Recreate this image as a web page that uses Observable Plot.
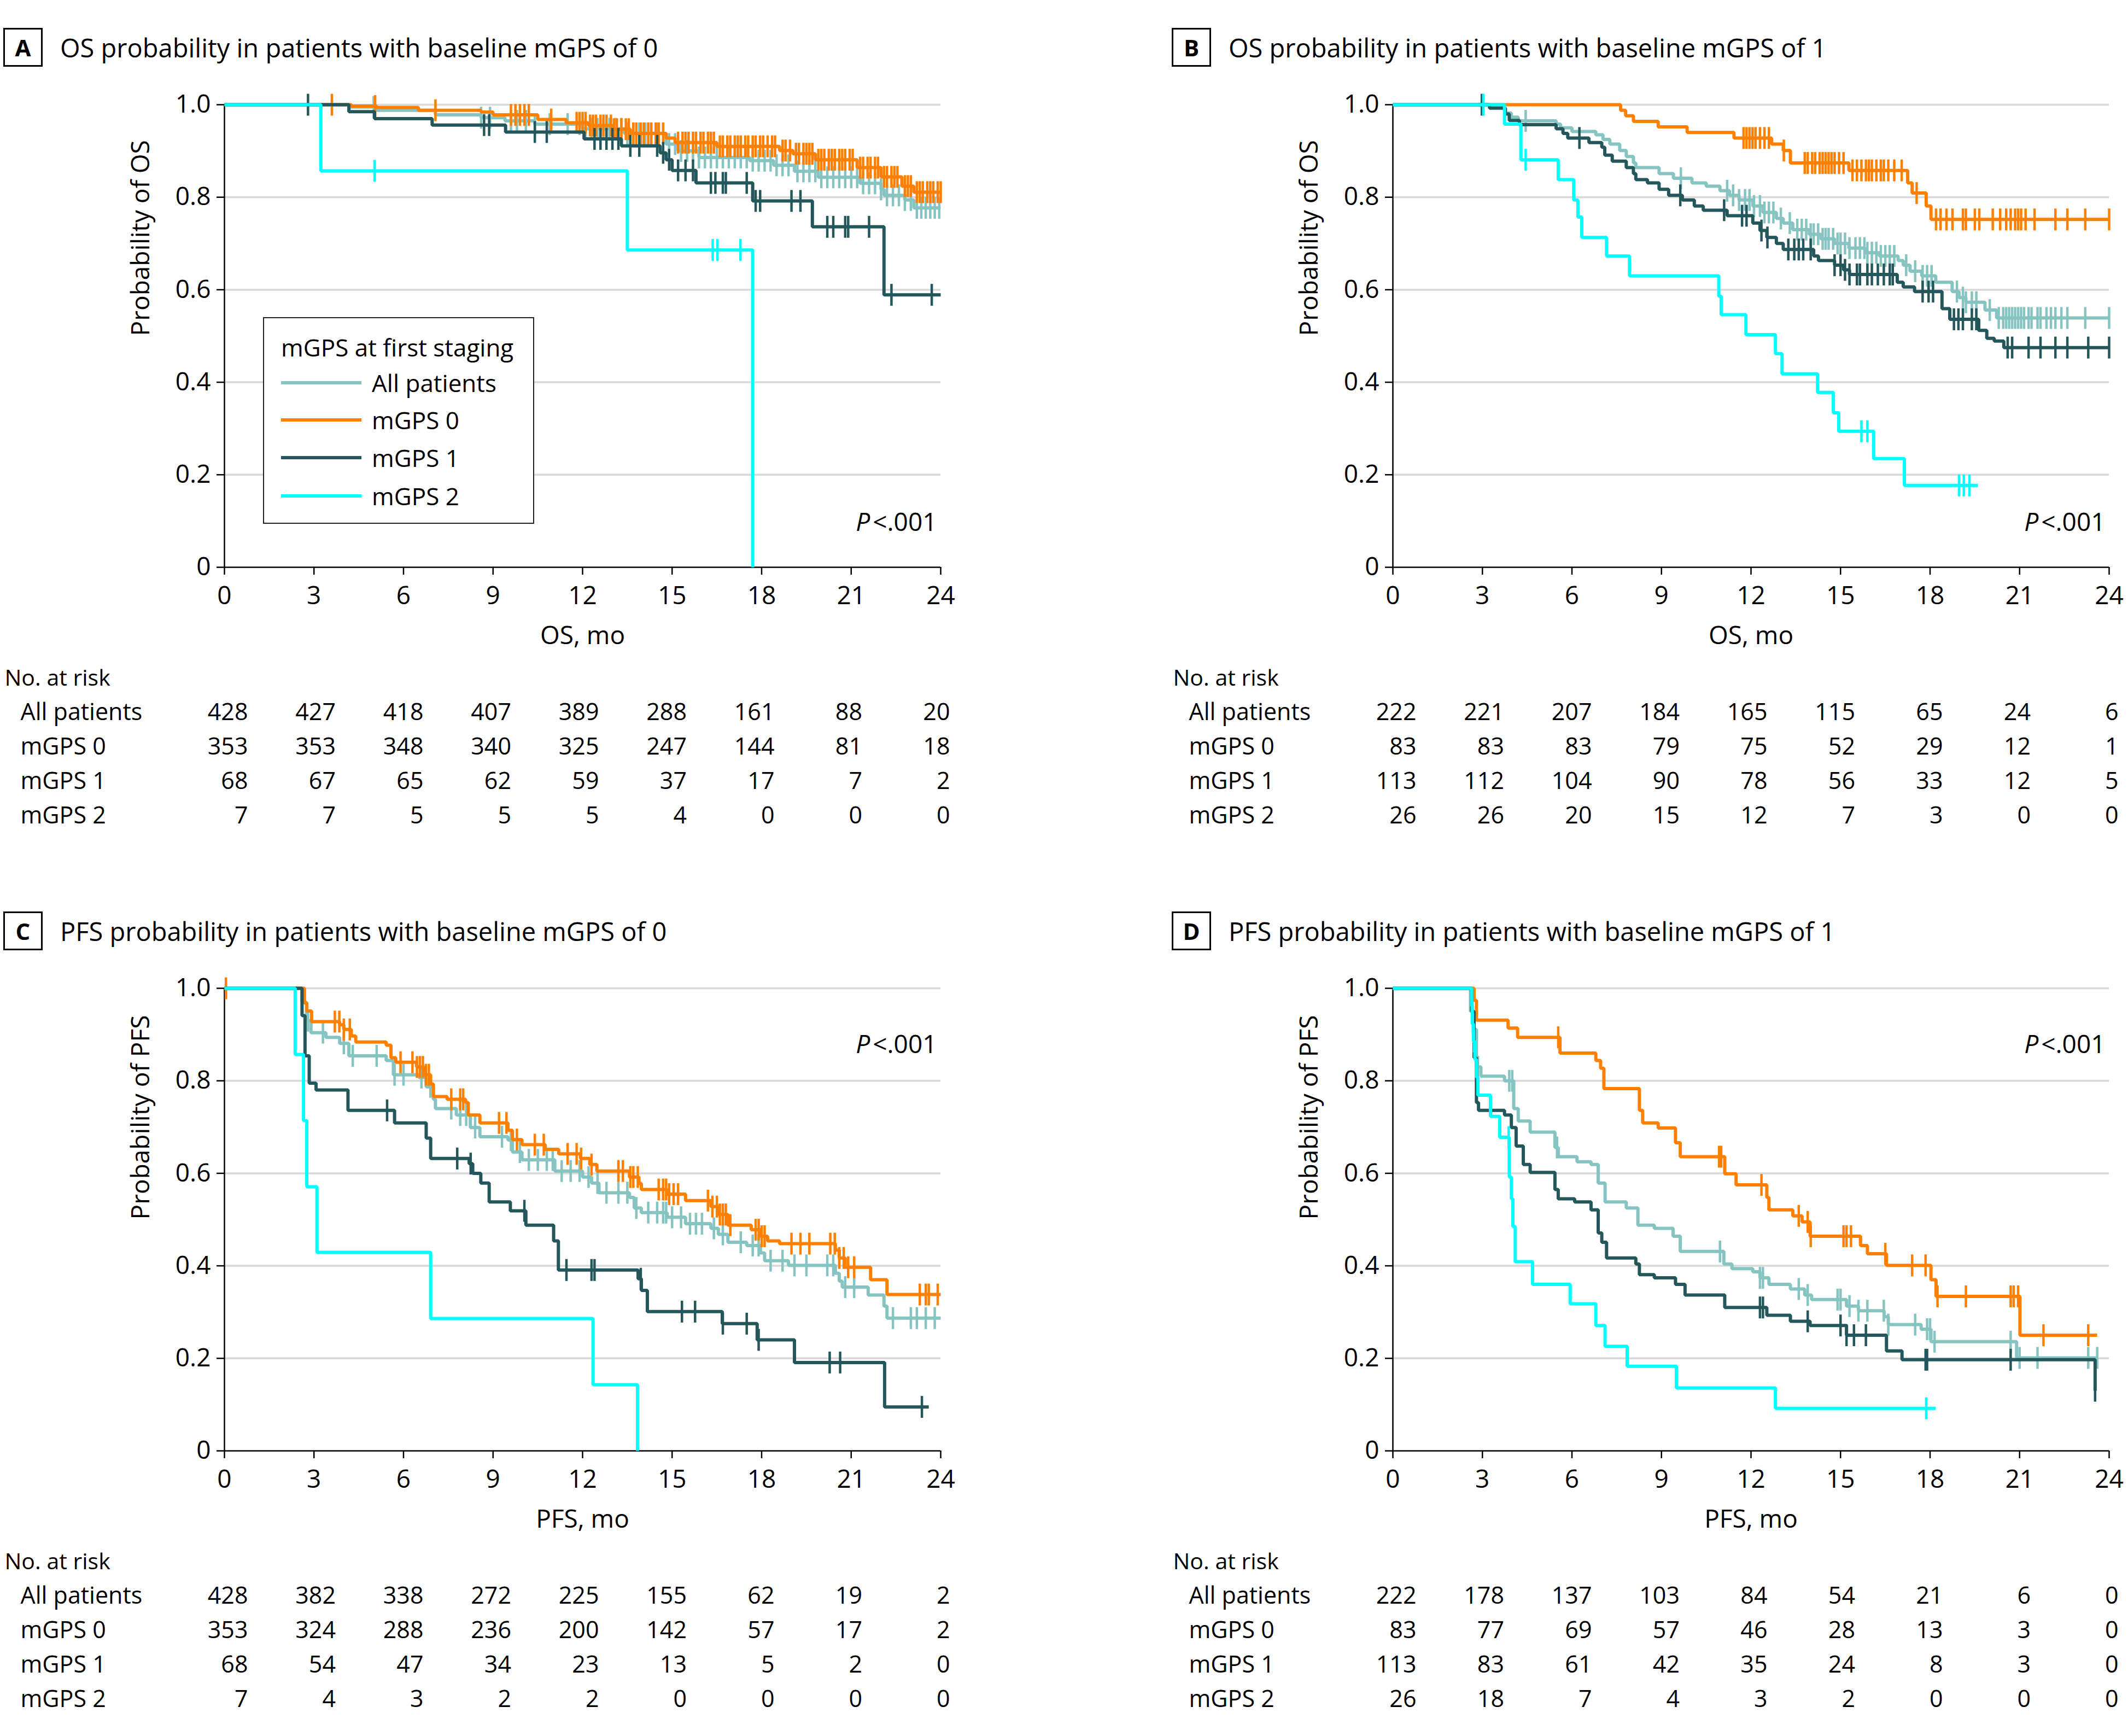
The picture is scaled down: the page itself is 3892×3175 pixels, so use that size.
<!DOCTYPE html>
<html><head><meta charset="utf-8">
<script src="https://cdn.jsdelivr.net/npm/d3@7"></script>
<script src="https://cdn.jsdelivr.net/npm/@observablehq/plot@0.6"></script>
<style>
body{margin:0;background:#fff;}
#page{position:relative;width:3892px;height:3175px;font-family:"Open Sans",sans-serif;color:#000;overflow:hidden;background:#fff;}
.panel{position:absolute;width:1900px;height:1580px;}
.panel svg{position:absolute;left:0;overflow:visible;}
.tbox{position:absolute;left:6px;top:51px;width:66px;height:65px;border:3px solid #000;font-weight:700;font-size:42px;line-height:65px;text-align:center;}
.title{position:absolute;left:110px;top:64px;font-size:47px;line-height:47px;white-space:nowrap;}
.legend{position:absolute;left:481px;top:580px;width:492px;height:374px;border:2.5px solid #222;background:#fff;}
.legend .lt{position:absolute;left:31px;top:23px;font-size:44px;line-height:60px;white-space:nowrap;}
.legend .row{position:absolute;left:31px;height:60px;white-space:nowrap;}
.legend .sw{position:absolute;left:0;top:27px;width:147px;height:6px;}
.legend .lab{position:absolute;left:166px;top:0;font-size:44px;line-height:60px;}
</style></head>
<body><div id="page"></div>
<script>
// ---------- shared ----------
const xTicks = [0, 3, 6, 9, 12, 15, 18, 21, 24];
const yTicks = [0, 0.2, 0.4, 0.6, 0.8, 1.0];
const gridTicks = [0.2, 0.4, 0.6, 0.8, 1.0];
const groups = ["All patients", "mGPS 0", "mGPS 1", "mGPS 2"];
const colors = ["#86c4c2", "#ff8000", "#24575c", "#00ffff"];
const pLabel = "P<.001";

// ---------- Panel A: OS, baseline mGPS 0 ----------
const A_all_t = [4.2,5.1,7.07,8.6,9.4,10.4,12.0,13.4,14.8,15.2,15.9,17.6,18.4,19.1,19.9,21.3,22.0,22.1,22.8,23.1];
const A_all_s = [.995,.988,.978,.972,.965,.958,.948,.938,.915,.900,.886,.879,.869,.856,.843,.830,.817,.804,.794,.777];
const A_all_c = [5.0,8.6,8.9,9.6,9.8,10.1,10.4,10.9,11.5,11.9,12.1,12.3,12.5,12.7,12.9,13.1,13.3,13.5,13.7,13.9,14.1,14.3,14.5,14.9,15.1,15.3,15.5,15.7,15.9,16.1,16.3,16.5,16.7,16.9,17.1,17.3,17.5,17.7,17.9,18.1,18.3,18.5,18.7,18.9,19.2,19.4,19.6,19.8,20.0,20.2,20.4,20.6,20.8,21.0,21.2,21.4,21.6,21.8,22.0,22.2,22.4,22.6,22.8,23.0,23.2,23.35,23.5,23.65,23.8,23.95];
const A_0_t = [4.25,5.1,6.5,8.6,9.0,10.5,11.45,12.2,13.0,13.6,14.8,15.1,16.5,18.6,19.05,19.8,21.2,22.0,22.7,23.1];
const A_0_s = [.997,.994,.988,.984,.978,.968,.961,.955,.947,.938,.928,.918,.910,.901,.894,.881,.864,.844,.824,.811];
const A_0_c = [3.6,5.05,7.07,9.6,9.75,9.9,10.05,10.2,10.95,11.8,11.9,12.0,12.1,12.25,12.35,12.45,12.6,12.7,12.8,12.95,13.05,13.15,13.3,13.45,13.55,13.7,13.8,13.95,14.05,14.2,14.3,14.45,14.55,14.7,15.2,15.35,15.45,15.55,15.7,15.8,15.95,16.05,16.2,16.3,16.4,16.6,16.7,16.85,16.95,17.1,17.2,17.3,17.45,17.55,17.7,17.8,17.95,18.05,18.2,18.35,18.45,18.7,18.8,18.95,19.15,19.25,19.4,19.5,19.6,19.7,19.9,20.0,20.1,20.25,20.35,20.45,20.6,20.7,20.8,20.95,21.05,21.3,21.4,21.55,21.65,21.8,21.9,22.1,22.2,22.35,22.45,22.55,22.8,22.9,23.0,23.2,23.3,23.4,23.55,23.65,23.75,23.9,24.0];
const A_1_t = [4.17,5.03,6.96,9.42,12.05,13.3,14.6,14.8,15.0,15.8,17.7,19.7,22.1];
const A_1_s = [.985,.970,.956,.941,.926,.911,.896,.881,.858,.831,.792,.736,.589];
const A_1_c = [2.8,8.7,8.87,10.4,10.8,12.4,12.6,12.8,13.0,13.2,13.6,13.9,14.5,14.7,14.9,15.2,15.45,15.7,16.3,16.45,16.7,16.8,17.5,17.8,17.95,19.0,19.3,20.2,20.4,20.8,20.9,21.6,22.35,23.7];
const A_2_t = [3.23,13.5,17.7];
const A_2_s = [.857,.686,0];
const A_2_c = [5.03,16.36,16.52,17.29];
const A_end = [24, 24, 24, 17.7];
const A_risk_all = [428,427,418,407,389,288,161,88,20];
const A_risk_0 = [353,353,348,340,325,247,144,81,18];
const A_risk_1 = [68,67,65,62,59,37,17,7,2];
const A_risk_2 = [7,7,5,5,5,4,0,0,0];

// ---------- Panel B: OS, baseline mGPS 1 ----------
const B_all_t = [3.24,3.77,3.97,4.2,5.47,5.62,6.0,6.8,7.04,7.27,7.6,7.82,8.06,8.14,8.92,9.4,10.02,10.5,10.96,11.28,11.6,12.06,12.4,12.85,13.08,13.4,13.95,14.34,14.8,15.28,15.83,16.3,16.93,17.1,17.33,17.72,18.19,18.74,18.97,19.2,19.84,20.23];
const B_all_s = [.992,.982,.973,.965,.958,.950,.942,.935,.925,.915,.901,.888,.874,.864,.851,.841,.831,.824,.814,.804,.794,.781,.767,.754,.744,.730,.720,.710,.700,.690,.680,.673,.663,.653,.640,.630,.616,.596,.583,.573,.556,.539];
const B_all_c = [4.45,9.65,11.2,11.4,11.6,11.8,11.95,12.1,12.3,12.45,12.6,12.75,13.0,13.3,13.55,13.7,13.85,14.0,14.1,14.25,14.4,14.5,14.6,14.75,14.9,15.0,15.15,15.3,15.5,15.65,15.8,15.9,16.05,16.2,16.35,16.5,16.65,16.8,17.2,17.5,17.75,17.9,18.05,18.9,19.1,19.2,19.4,19.55,20.0,20.3,20.45,20.55,20.65,20.75,20.85,20.95,21.05,21.15,21.3,21.4,21.6,21.7,21.9,22.05,22.2,22.4,22.6,23.2,24.0];
const B_0_t = [7.63,7.8,8.06,8.89,9.86,11.43,12.69,13.08,13.32,15.28,17.25,17.4,17.87,18.03];
const B_0_s = [.988,.976,.964,.952,.940,.928,.915,.901,.874,.858,.831,.809,.781,.752];
const B_0_c = [11.75,11.85,11.95,12.05,12.15,12.3,12.45,12.6,13.1,13.8,13.9,14.05,14.15,14.3,14.4,14.5,14.6,14.7,14.8,14.95,15.1,15.4,15.55,15.7,15.85,15.95,16.05,16.2,16.35,16.45,16.6,16.8,17.05,17.55,18.2,18.35,18.55,18.75,19.1,19.2,19.5,19.65,20.1,20.35,20.55,20.7,20.85,20.95,21.05,21.2,21.5,22.2,22.6,23.2,24.0];
const B_1_t = [3.24,3.77,3.9,4.24,5.47,5.7,5.86,6.57,7.0,7.1,7.35,7.82,8.06,8.14,8.53,8.92,9.24,9.7,10.1,10.4,11.2,12.06,12.3,12.53,12.85,13.08,14.1,14.26,14.8,15.1,15.3,16.9,17.1,17.48,18.4,18.66,19.63,19.9,20.15,20.47];
const B_1_s = [.993,.980,.966,.957,.948,.938,.928,.918,.908,.891,.878,.864,.851,.838,.831,.817,.804,.794,.781,.772,.760,.744,.728,.713,.700,.687,.673,.663,.653,.643,.633,.616,.606,.596,.559,.536,.512,.495,.489,.475];
const B_1_c = [2.98,6.25,9.63,11.1,11.7,11.85,12.35,12.55,13.25,13.45,13.6,13.75,14.0,14.8,15.0,15.15,15.3,15.55,15.65,15.9,16.05,16.25,16.45,16.65,16.75,17.75,17.95,18.1,18.8,18.95,19.1,19.4,19.55,20.6,20.75,21.3,21.7,22.2,22.6,23.3,24.0];
const B_2_t = [3.74,4.29,5.54,6.06,6.2,6.33,7.16,7.93,10.92,11.0,11.83,12.82,13.04,14.23,14.76,14.94,16.11,17.14];
const B_2_s = [.958,.881,.838,.794,.757,.713,.673,.630,.586,.546,.503,.462,.418,.378,.334,.294,.235,.177];
const B_2_c = [3.03,4.45,15.7,15.9,18.97,19.13,19.32];
const B_end = [24, 24, 24, 19.6];
const B_risk_all = [222,221,207,184,165,115,65,24,6];
const B_risk_0 = [83,83,83,79,75,52,29,12,1];
const B_risk_1 = [113,112,104,90,78,56,33,12,5];
const B_risk_2 = [26,26,20,15,12,7,3,0,0];

// ---------- Panel C: PFS, baseline mGPS 0 ----------
const C_all_t = [2.6,2.75,2.9,3.4,3.86,4.17,5.42,5.66,6.52,6.76,7.0,7.07,7.77,8.24,8.56,9.5,9.65,9.97,11.07,12.0,12.3,12.55,13.57,13.73,13.97,14.83,15.45,16.3,16.55,16.87,17.5,17.96,18.1,18.9,20.47,20.6,20.7,21.57,22.1,22.2];
const C_all_s = [.970,.930,.904,.894,.881,.854,.844,.813,.807,.787,.760,.740,.726,.699,.679,.672,.646,.629,.605,.592,.579,.558,.548,.525,.515,.505,.491,.481,.468,.451,.444,.428,.411,.401,.384,.367,.354,.337,.313,.287];
const C_all_c = [2.8,3.3,4.0,4.3,5.1,5.7,6.0,6.6,6.9,7.6,7.9,8.1,8.4,9.3,9.6,9.9,10.2,10.5,10.8,11.0,11.3,11.6,11.9,12.2,12.5,12.8,13.2,13.5,13.8,14.2,14.5,14.7,14.8,15.0,15.3,15.6,15.8,16.0,16.4,16.7,17.3,17.7,17.9,18.3,18.7,19.1,19.5,20.2,20.4,20.8,21.1,22.4,23.0,23.2,23.5,23.8];
const C_0_t = [2.68,2.76,2.92,3.86,4.0,4.25,4.4,5.42,5.58,5.74,6.44,6.68,6.91,7.0,7.46,8.08,8.17,8.56,9.5,9.65,9.97,10.75,11.2,11.93,12.24,12.48,13.57,13.89,13.97,14.83,15.45,16.3,16.55,16.87,17.65,17.96,18.2,18.6,20.47,20.6,20.8,21.65,22.2];
const C_0_s = [.968,.951,.928,.921,.911,.897,.884,.877,.850,.840,.830,.813,.793,.766,.760,.753,.726,.709,.693,.673,.662,.652,.642,.632,.619,.605,.592,.578,.565,.555,.541,.528,.511,.488,.478,.464,.454,.448,.434,.417,.397,.370,.338];
const C_0_c = [0.05,3.7,3.85,4.0,4.2,5.9,6.3,6.45,6.55,6.65,6.75,6.85,7.6,7.9,8.0,9.2,9.45,9.8,10.4,10.7,11.5,11.8,11.95,12.3,13.2,13.35,13.6,13.7,13.85,14.55,14.7,14.8,14.9,15.05,15.2,16.2,16.35,16.5,16.6,16.7,16.8,16.95,17.8,17.9,18.0,18.1,19.0,19.3,19.6,20.3,20.45,20.6,20.75,20.9,21.1,23.3,23.5,23.6,23.9];
const C_1_t = [2.6,2.7,2.84,3.07,4.14,5.7,6.76,6.91,8.2,8.32,8.59,8.87,9.58,10.1,11.03,11.19,13.86,13.97,14.17,16.68,17.85,19.1,22.12];
const C_1_s = [.941,.854,.795,.780,.736,.709,.676,.632,.621,.600,.579,.538,.519,.488,.454,.391,.372,.347,.301,.275,.240,.191,.095];
const C_1_c = [5.45,7.8,8.25,10.05,11.46,12.3,12.4,13.95,15.33,15.77,16.7,17.5,17.9,20.28,20.63,23.37];
const C_2_t = [2.37,2.65,2.76,3.1,6.91,12.35,13.84];
const C_2_s = [.857,.714,.571,.429,.286,.143,0];
const C_2_c = [];
const C_end = [24, 24, 23.6, 13.84];
const C_risk_all = [428,382,338,272,225,155,62,19,2];
const C_risk_0 = [353,324,288,236,200,142,57,17,2];
const C_risk_1 = [68,54,47,34,23,13,5,2,0];
const C_risk_2 = [7,4,3,2,2,0,0,0,0];

// ---------- Panel D: PFS, baseline mGPS 1 ----------
const D_all_t = [2.6,2.72,2.8,2.95,3.74,4.05,4.2,4.6,5.43,5.54,6.17,6.64,6.88,7.11,7.82,8.21,8.76,9.39,9.63,11.09,11.36,12.06,12.3,12.6,13.32,13.8,14.03,15.2,15.6,16.46,16.6,17.7,18.03,20.9];
const D_all_s = [.950,.911,.830,.810,.800,.740,.713,.689,.656,.636,.625,.619,.579,.538,.525,.488,.481,.464,.431,.404,.394,.387,.374,.360,.350,.337,.327,.313,.303,.290,.273,.263,.236,.201];
const D_all_c = [2.72,2.85,3.9,4.0,5.5,10.96,12.3,12.4,13.6,13.9,14.9,15.0,15.3,15.6,15.9,16.45,16.6,17.5,17.9,18.0,18.15,20.7,21.0,21.6,23.3,23.6];
const D_0_t = [2.72,2.8,3.86,4.18,5.6,6.8,6.96,7.07,8.26,8.37,8.89,9.47,9.63,11.12,11.5,12.53,12.6,13.4,13.71,13.98,15.67,15.9,16.54,18.03,18.2,21.01];
const D_0_s = [.974,.931,.914,.894,.860,.844,.827,.783,.736,.709,.698,.666,.636,.599,.575,.548,.521,.508,.495,.464,.444,.426,.401,.370,.334,.250];
const D_0_c = [5.54,10.93,11.0,12.35,13.6,13.9,14.0,15.1,15.2,15.35,16.5,17.4,17.85,18.25,19.2,20.7,20.8,20.95,21.8,23.3];
const D_1_t = [2.64,2.72,2.8,2.87,3.74,3.97,4.13,4.37,4.6,5.43,5.54,6.09,6.64,6.88,7.0,7.16,8.14,8.26,8.76,9.47,9.79,11.12,12.53,13.32,13.98,15.2,16.54,17.06,23.53];
const D_1_s = [.950,.850,.753,.736,.726,.699,.659,.619,.602,.565,.545,.538,.521,.471,.451,.417,.404,.381,.374,.360,.337,.310,.293,.280,.271,.250,.216,.197,.130];
const D_1_c = [12.3,12.4,13.9,15.0,15.2,15.45,15.85,17.85,17.9,20.7,23.53];
const D_2_t = [2.64,2.66,2.7,2.75,2.8,2.85,3.27,3.58,3.9,3.97,4.02,4.1,4.68,5.94,6.8,7.11,7.85,9.5,12.82];
const D_2_s = [.962,.923,.885,.846,.808,.769,.723,.678,.592,.545,.485,.409,.360,.318,.271,.226,.183,.136,.092];
const D_2_c = [2.68,2.72,3.88,17.87];
const D_end = [23.6, 23.6, 23.53, 18.19];
const D_risk_all = [222,178,137,103,84,54,21,6,0];
const D_risk_0 = [83,77,69,57,46,28,13,3,0];
const D_risk_1 = [113,83,61,42,35,24,8,3,0];
const D_risk_2 = [26,18,7,4,3,2,0,0,0];

// ---------- panel configuration ----------
const panels = [
  {id:"A", ox:0, oy:0, title:"OS probability in patients with baseline mGPS of 0", ylab:"Probability of OS", xlab:"OS, mo", pTop:false, legend:true,
   t:[A_all_t,A_0_t,A_1_t,A_2_t], s:[A_all_s,A_0_s,A_1_s,A_2_s], c:[A_all_c,A_0_c,A_1_c,A_2_c], end:A_end, risk:[A_risk_all,A_risk_0,A_risk_1,A_risk_2]},
  {id:"B", ox:2137, oy:0, title:"OS probability in patients with baseline mGPS of 1", ylab:"Probability of OS", xlab:"OS, mo", pTop:false, legend:false,
   t:[B_all_t,B_0_t,B_1_t,B_2_t], s:[B_all_s,B_0_s,B_1_s,B_2_s], c:[B_all_c,B_0_c,B_1_c,B_2_c], end:B_end, risk:[B_risk_all,B_risk_0,B_risk_1,B_risk_2]},
  {id:"C", ox:0, oy:1616, title:"PFS probability in patients with baseline mGPS of 0", ylab:"Probability of PFS", xlab:"PFS, mo", pTop:true, legend:false,
   t:[C_all_t,C_0_t,C_1_t,C_2_t], s:[C_all_s,C_0_s,C_1_s,C_2_s], c:[C_all_c,C_0_c,C_1_c,C_2_c], end:C_end, risk:[C_risk_all,C_risk_0,C_risk_1,C_risk_2]},
  {id:"D", ox:2137, oy:1616, title:"PFS probability in patients with baseline mGPS of 1", ylab:"Probability of PFS", xlab:"PFS, mo", pTop:true, legend:false,
   t:[D_all_t,D_0_t,D_1_t,D_2_t], s:[D_all_s,D_0_s,D_1_s,D_2_s], c:[D_all_c,D_0_c,D_1_c,D_2_c], end:D_end, risk:[D_risk_all,D_risk_0,D_risk_1,D_risk_2]}
];

// censor tick symbol (vertical bar)
const vbar = {draw(ctx, size) { const r = Math.sqrt(size / Math.PI); ctx.moveTo(0, -r); ctx.lineTo(0, r); }};

function buildSeries(t, s, c, end) {
  const pts = [{t: 0, s: 1}];
  t.forEach((ti, i) => pts.push({t: ti, s: s[i]}));
  pts.push({t: end, s: s.length ? s[s.length - 1] : 1});
  const S = x => { let v = 1; for (let i = 0; i < t.length; i++) if (t[i] <= x) v = s[i]; return v; };
  const cens = c.map(ci => ({t: ci, s: S(ci)}));
  return {pts, cens};
}

const page = document.getElementById("page");

for (const p of panels) {
  const div = document.createElement("div");
  div.className = "panel";
  div.style.left = p.ox + "px";
  div.style.top = p.oy + "px";
  page.appendChild(div);

  const box = document.createElement("div"); box.className = "tbox"; box.textContent = p.id; div.appendChild(box);
  const ti = document.createElement("div"); ti.className = "title"; ti.textContent = p.title; div.appendChild(ti);

  const curveMarks = [];
  groups.forEach((g, i) => {
    const {pts, cens} = buildSeries(p.t[i], p.s[i], p.c[i], p.end[i]);
    curveMarks.push(Plot.line(pts, {x: "t", y: "s", curve: "step-after", stroke: colors[i], strokeWidth: 6, strokeLinejoin: "miter", strokeLinecap: "butt"}));
    curveMarks.push(Plot.dot(cens, {x: "t", y: "s", symbol: vbar, r: 20, stroke: colors[i], strokeWidth: 4.5, fill: "none"}));
  });

  const km = Plot.plot({
    width: 1780, height: 1080,
    marginLeft: 410, marginRight: 60, marginTop: 51, marginBottom: 183,
    x: {domain: [0, 24]},
    y: {domain: [0, 1]},
    style: {fontFamily: "'Open Sans', sans-serif", fontSize: "46px", color: "#000", background: "transparent", overflow: "visible"},
    marks: [
      Plot.gridY({ticks: gridTicks, stroke: "#d9d9d9", strokeOpacity: 1, strokeWidth: 3.5}),
      Plot.axisX({ticks: xTicks, tickSize: 14, tickPadding: 21, fontSize: 46, strokeWidth: 2.5, label: null, tickFormat: d => String(d)}),
      Plot.axisY({ticks: yTicks, tickSize: 14, tickPadding: 11, fontSize: 46, strokeWidth: 2.5, label: null, tickFormat: d => d === 0 ? "0" : d.toFixed(1)}),
      Plot.ruleX([0], {stroke: "#000", strokeWidth: 2.5}),
      Plot.ruleY([0], {stroke: "#000", strokeWidth: 2.5}),
      ...curveMarks,
      Plot.text([p.ylab], {frameAnchor: "left", rotate: -90, dx: -152, fontSize: 46}),
      Plot.text([p.xlab], {frameAnchor: "bottom", dy: 140, fontSize: 46}),
      Plot.text([pLabel], p.pTop
        ? {frameAnchor: "top-right", textAnchor: "end", dx: -7, dy: 86, fontSize: 46}
        : {frameAnchor: "bottom-right", textAnchor: "end", dx: -7, dy: -67, fontSize: 46})
    ]
  });
  km.style.top = "140px";
  d3.select(km).selectAll("text").each(function() {
    if (this.textContent === pLabel) {
      const sel = d3.select(this);
      sel.text(null);
      sel.append("tspan").attr("font-style", "italic").text("P");
      sel.append("tspan").attr("dx", 5).text("<.001");
    }
  });
  div.appendChild(km);

  // number at risk table
  const tableData = groups.flatMap((g, i) => xTicks.map((t, j) => ({t, row: g, n: p.risk[i][j]})));
  const tbl = Plot.plot({
    width: 1780, height: 330,
    marginLeft: 410, marginRight: 60, marginTop: 0, marginBottom: 0,
    x: {domain: [0, 24], range: [453, 1737], axis: null},
    y: {type: "point", domain: ["No. at risk", ...groups], range: [39, 292], padding: 0},
    style: {fontFamily: "'Open Sans', sans-serif", fontSize: "43px", color: "#000", background: "transparent", overflow: "visible"},
    marks: [
      Plot.axisY({ticks: groups, tickSize: 0, tickPadding: 373, textAnchor: "start", fontSize: 43, label: null}),
      Plot.axisY({ticks: ["No. at risk"], tickSize: 0, tickPadding: 402, textAnchor: "start", fontSize: 41, label: null}),
      Plot.text(tableData, {x: "t", y: "row", text: d => String(d.n), textAnchor: "end", fontSize: 43})
    ]
  });
  tbl.style.top = "1200px";
  div.appendChild(tbl);

  if (p.legend) {
    const lg = document.createElement("div");
    lg.className = "legend";
    const lt = document.createElement("div"); lt.className = "lt"; lt.textContent = "mGPS at first staging"; lg.appendChild(lt);
    const rowTops = [88, 156, 225, 295];
    groups.forEach((g, i) => {
      const r = document.createElement("div"); r.className = "row"; r.style.top = rowTops[i] + "px";
      const sw = document.createElement("div"); sw.className = "sw"; sw.style.background = colors[i]; r.appendChild(sw);
      const lb = document.createElement("div"); lb.className = "lab"; lb.textContent = g; r.appendChild(lb);
      lg.appendChild(r);
    });
    div.appendChild(lg);
  }
}
</script>
</body></html>
